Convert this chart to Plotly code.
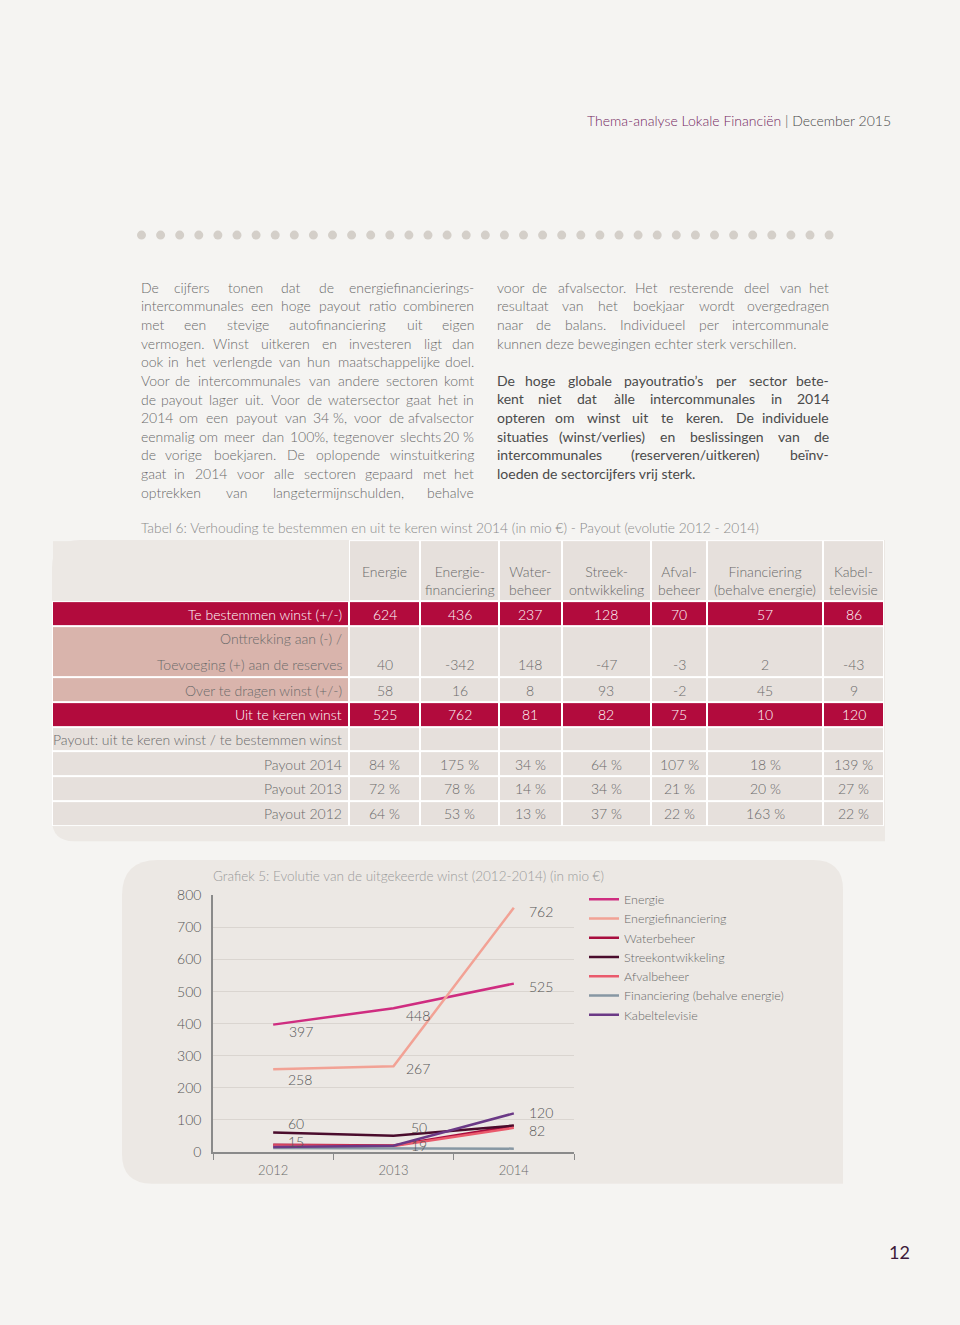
import plotly.graph_objects as go

W, H = 960, 1325
FONT = "Lato, 'Open Sans', sans-serif"

# ---------------- chart data (Grafiek 5) ----------------
years = ["2012", "2013", "2014"]
energie = [397, 448, 525]
energiefinanciering = [258, 267, 762]
waterbeheer = [22, 20, 81]
streekontwikkeling = [60, 50, 82]
afvalbeheer = [20, 18, 75]
financiering = [12, 12, 10]
kabeltelevisie = [15, 19, 120]
y_ticks = [0, 100, 200, 300, 400, 500, 600, 700, 800]

# ---------------- table data (Tabel 6) ----------------
table_headers = ["Energie", "Energie-<br>financiering", "Water-<br>beheer", "Streek-<br>ontwikkeling",
                 "Afval-<br>beheer", "Financiering<br>(behalve energie)", "Kabel-<br>televisie"]
te_bestemmen = [624, 436, 237, 128, 70, 57, 86]
reserves = [40, -342, 148, -47, -3, 2, -43]
over_te_dragen = [58, 16, 8, 93, -2, 45, 9]
uit_te_keren = [525, 762, 81, 82, 75, 10, 120]
payout_2014 = [84, 175, 34, 64, 107, 18, 139]
payout_2013 = [72, 78, 14, 34, 21, 20, 27]
payout_2012 = [64, 53, 13, 37, 22, 163, 22]

row_labels = [["Te bestemmen winst (+/-)"],
              ["Onttrekking aan (-) /", "Toevoeging (+) aan de reserves"],
              ["Over te dragen winst (+/-)"],
              ["Uit te keren winst"],
              ["Payout: uit te keren winst / te bestemmen winst"],
              ["Payout 2014"], ["Payout 2013"], ["Payout 2012"]]
row_values = [te_bestemmen, reserves, over_te_dragen, uit_te_keren, None,
              payout_2014, payout_2013, payout_2012]
row_suffix = ["", "", "", "", "", "\u00a0%", "\u00a0%", "\u00a0%"]
row_kind = ["red", "pink", "pink", "red", "plain", "plain", "plain", "plain"]

# ---------------- text ----------------
header_title = "Thema-analyse Lokale Financiën"
header_date = " | December 2015"
table_title = "Tabel 6: Verhouding te bestemmen en uit te keren winst 2014 (in mio €) - Payout (evolutie 2012 - 2014)"
chart_title = "Grafiek 5: Evolutie van de uitgekeerde winst (2012-2014) (in mio €)"
page_number = "12"
left_lines = [
    "De cijfers tonen dat de energiefinancierings-",
    "intercommunales een hoge payout ratio combineren",
    "met een stevige autofinanciering uit eigen",
    "vermogen. Winst uitkeren en investeren ligt dan",
    "ook in het verlengde van hun maatschappelijke doel.",
    "Voor de intercommunales van andere sectoren komt",
    "de payout lager uit. Voor de watersector gaat het in",
    "2014 om een payout van 34\u00a0%, voor de afvalsector",
    "eenmalig om meer dan 100%, tegenover slechts 20\u00a0%",
    "de vorige boekjaren. De oplopende winstuitkering",
    "gaat in 2014 voor alle sectoren gepaard met het",
    "optrekken van langetermijnschulden, behalve",
]
right_lines = [
    "voor de afvalsector. Het resterende deel van het",
    "resultaat van het boekjaar wordt overgedragen",
    "naar de balans. Individueel per intercommunale",
    "kunnen deze bewegingen echter sterk verschillen.",
]
right_bold_lines = [
    "De hoge globale payoutratio’s per sector bete-",
    "kent niet dat àlle intercommunales in 2014",
    "opteren om winst uit te keren. De individuele",
    "situaties (winst/verlies) en beslissingen van de",
    "intercommunales (reserveren/uitkeren) beïnv-",
    "loeden de sectorcijfers vrij sterk.",
]

# ---------------- styles ----------------
PAGE_BG = "#f5f4f2"
PANEL_BG = "#ece8e4"
CELL_BG = "#e6e0dc"
PINK = "#d9b4ac"
RED = "#b20b3d"
TEXT = "#6a6a6a"
DARK = "#555555"
series_style = [
    ("Energie", energie, "#cf2d80"),
    ("Energiefinanciering", energiefinanciering, "#f2a295"),
    ("Waterbeheer", waterbeheer, "#a80d3e"),
    ("Streekontwikkeling", streekontwikkeling, "#4a0c2c"),
    ("Afvalbeheer", afvalbeheer, "#ea5a6c"),
    ("Financiering (behalve energie)", financiering, "#8797a3"),
    ("Kabeltelevisie", kabeltelevisie, "#6b3986"),
]
label_offsets = {
    "Energie": [(14, -7), (10, -7), (13, -3)],
    "Energiefinanciering": [(13, -10), (10, -2), (13, -4)],
    "Streekontwikkeling": [(13, 9), (15, 8), (13, -5)],
    "Kabeltelevisie": [(13, 6), (15, 0), (13, 1)],
}
col_widths = [297, 71, 79, 62.5, 89.5, 56, 116, 61]
header_h = 62
row_heights = [25, 52, 25, 25, 25, 25, 25, 26]


def fx(x):
    return x / W


def fy(y):
    return 1 - y / H


def P(x, y):
    return f"{fx(x):.5f},{fy(y):.5f}"


def rounded(x0, y0, x1, y1, tl, tr, br, bl):
    return (f"M{P(x0 + tl, y0)} L{P(x1 - tr, y0)} Q{P(x1, y0)} {P(x1, y0 + tr)} "
            f"L{P(x1, y1 - br)} Q{P(x1, y1)} {P(x1 - br, y1)} L{P(x0 + bl, y1)} "
            f"Q{P(x0, y1)} {P(x0, y1 - bl)} L{P(x0, y0 + tl)} Q{P(x0, y0)} {P(x0 + tl, y0)} Z")


fig = go.Figure()
shapes = []
annotations = []

# panels
shapes.append(dict(type="path", xref="paper", yref="paper", layer="below",
                   path=rounded(52, 538, 885, 843, 28, 0, 0, 22), fillcolor=PANEL_BG, line=dict(width=0)))
shapes.append(dict(type="path", xref="paper", yref="paper", layer="below",
                   path=rounded(122, 862, 843, 1190, 36, 30, 0, 30), fillcolor=PANEL_BG, line=dict(width=0)))

# row of dots
for i in range(37):
    cx = 141.5 + i * 19.1
    shapes.append(dict(type="circle", xref="paper", yref="paper", layer="below",
                       x0=fx(cx - 4.5), x1=fx(cx + 4.5), y0=fy(229 + 4.5), y1=fy(229 - 4.5),
                       fillcolor="#d4cfc9", line=dict(width=0)))

# ---------------- table via heatmap ----------------
x_edges = [0]
for w in col_widths:
    x_edges.append(x_edges[-1] + w)
y_edges = [0, header_h]
for h in row_heights:
    y_edges.append(y_edges[-1] + h)
code = {"red": 3, "pink": 2, "plain": 1}
z_cells = [[0] + [1] * 7]
z_base = [[None] + [1] * 7]
for kind in row_kind:
    z_cells.append([code[kind]] + [3 if kind == "red" else 1] * 7)
    z_base.append([1] * 8)

fig.add_trace(go.Heatmap(x=x_edges, y=y_edges, z=z_base, xaxis="x2", yaxis="y2",
                         colorscale=[[0, "#ffffff"], [1, "#ffffff"]], showscale=False,
                         hoverinfo="skip"))
fig.add_trace(go.Heatmap(x=x_edges, y=y_edges, z=z_cells, xaxis="x2", yaxis="y2", zmin=0, zmax=3,
                         colorscale=[[0, PANEL_BG], [0.166, PANEL_BG], [0.167, CELL_BG], [0.5, CELL_BG],
                                     [0.5, PINK], [0.833, PINK], [0.834, RED], [1, RED]],
                         xgap=2, ygap=2, showscale=False, hoverinfo="skip"))

tfont = dict(family=FONT, size=14, color=TEXT, weight=300)
for j, hdr in enumerate(table_headers):
    cxm = (x_edges[j + 1] + x_edges[j + 2]) / 2
    annotations.append(dict(xref="x2", yref="y2", x=cxm, y=21, text=hdr, showarrow=False,
                            xanchor="center", yanchor="top", align="center", font=tfont))
for r, labels in enumerate(row_labels):
    top = y_edges[r + 1]
    col = "#ffffff" if row_kind[r] == "red" else TEXT
    f = dict(family=FONT, size=14, color=col, weight=300)
    for k, lab in enumerate(labels):
        annotations.append(dict(xref="x2", yref="y2", x=x_edges[1] - 5, y=top + 13 + k * 26,
                                text=lab, showarrow=False, xanchor="right", yanchor="middle", font=f))
    vals = row_values[r]
    if vals is not None:
        yv = top + 13 + (len(labels) - 1) * 26
        for j, v in enumerate(vals):
            cxm = (x_edges[j + 1] + x_edges[j + 2]) / 2
            annotations.append(dict(xref="x2", yref="y2", x=cxm, y=yv, text=f"{v}{row_suffix[r]}",
                                    showarrow=False, xanchor="center", yanchor="middle", font=f))

# ---------------- line chart ----------------
for name, vals, color in series_style:
    fig.add_trace(go.Scatter(x=years, y=vals, mode="lines", name=name, xaxis="x", yaxis="y",
                             line=dict(color=color, width=2.5), hoverinfo="skip"))
    if name in label_offsets:
        for i, v in enumerate(vals):
            dx, dy = label_offsets[name][i]
            annotations.append(dict(xref="x", yref="y", x=i, y=v, text=str(v), showarrow=False,
                                    xanchor="left", yanchor="middle", xshift=dx, yshift=dy,
                                    font=dict(family=FONT, size=14, color=DARK, weight=300)))

annotations.append(dict(xref="paper", yref="paper", x=fx(211), y=fy(878), text=chart_title,
                        showarrow=False, xanchor="left", yanchor="middle",
                        font=dict(family=FONT, size=13.5, color="#9a9a9a", weight=300)))

# ---------------- page text ----------------
annotations.append(dict(xref="paper", yref="paper", x=fx(893), y=fy(113),
                        text=f"<span style='color:#74285f'>{header_title}</span>{header_date}",
                        showarrow=False, xanchor="right", yanchor="middle",
                        font=dict(family=FONT, size=14, color="#4a4a4a", weight=300)))
annotations.append(dict(xref="paper", yref="paper", x=fx(139), y=fy(525), text=table_title,
                        showarrow=False, xanchor="left", yanchor="middle",
                        font=dict(family=FONT, size=13.8, color="#8a8a8a", weight=300)))
annotations.append(dict(xref="paper", yref="paper", x=fx(899), y=fy(1259), text=page_number,
                        showarrow=False, xanchor="center", yanchor="middle",
                        font=dict(family=FONT, size=18, color="#3d1a3a")))

CW = {' ': 0.193, 'a': 0.49, 'b': 0.55, 'c': 0.45, 'd': 0.55, 'e': 0.51, 'f': 0.31, 'g': 0.49,
      'h': 0.55, 'i': 0.23, 'j': 0.23, 'k': 0.49, 'l': 0.23, 'm': 0.83, 'n': 0.55, 'o': 0.54,
      'p': 0.55, 'q': 0.55, 'r': 0.35, 's': 0.41, 't': 0.34, 'u': 0.55, 'v': 0.49, 'w': 0.75,
      'x': 0.48, 'y': 0.49, 'z': 0.44, '.': 0.2, ',': 0.2, '-': 0.33, '%': 0.74, '(': 0.3,
      ')': 0.3, '/': 0.38, '’': 0.2, 'à': 0.49, 'ï': 0.23, 'ë': 0.51, 'I': 0.27, 'W': 0.94,
      'D': 0.69, 'V': 0.64, 'H': 0.71, 'K': 0.62, '\u00a0': 0.193}


def est(text, size):
    return sum(CW.get(ch, 0.58 if ch.isdigit() else 0.62) for ch in text) * size


def add_line(text, x0, x1, y, size, color, weight, justify):
    words = text.split(" ")
    f = dict(family=FONT, size=size, color=color, weight=weight)
    widths = [est(w, size) for w in words]
    if justify and len(words) > 1:
        gap = (x1 - x0 - sum(widths)) / (len(words) - 1)
    else:
        gap = 0
    if not justify or len(words) < 2 or gap < 0.193 * size * 1.5:
        annotations.append(dict(xref="paper", yref="paper", x=fx(x0), y=fy(y), text=text,
                                showarrow=False, xanchor="left", yanchor="middle", font=f))
        return
    cur = x0
    for i, (w, wd) in enumerate(zip(words, widths)):
        if i == 0:
            xa, xx = "left", x0
        elif i == len(words) - 1:
            xa, xx = "right", x1
        else:
            xa, xx = "center", cur + wd / 2
        annotations.append(dict(xref="paper", yref="paper", x=fx(xx), y=fy(y), text=w,
                                showarrow=False, xanchor=xa, yanchor="middle", font=f))
        cur += wd + gap


for i, line in enumerate(left_lines):
    add_line(line, 139, 476, 282 + i * 18.85, 14, TEXT, 300, True)
for i, line in enumerate(right_lines):
    add_line(line, 495, 831, 282 + i * 18.85, 14, TEXT, 300, i < len(right_lines) - 1)
for i, line in enumerate(right_bold_lines):
    add_line(line, 495, 831, 376 + i * 18.85, 14, "#4a4a4a", 400, i < len(right_bold_lines) - 1)

fig.update_layout(
    width=W, height=H, margin=dict(l=0, r=0, t=0, b=0),
    paper_bgcolor=PAGE_BG, plot_bgcolor="rgba(0,0,0,0)",
    font=dict(family=FONT, color=TEXT),
    showlegend=True,
    legend=dict(x=fx(584), y=fy(887), xanchor="left", yanchor="top", bgcolor="rgba(0,0,0,0)",
                font=dict(family=FONT, size=12.5, color=TEXT, weight=300), tracegroupgap=0),
    xaxis=dict(domain=[fx(213), fx(574)], type="category", range=[-0.5, 2.5], showline=True,
               linecolor="#8a8a8a", linewidth=1.5, ticks="outside", tickson="boundaries", ticklen=6,
               tickcolor="#8a8a8a", showgrid=False, zeroline=False, ticklabelstandoff=6,
               tickfont=dict(family=FONT, size=13, color=TEXT, weight=300), anchor="y"),
    yaxis=dict(domain=[fy(1157.7), fy(898)], range=[0, 800], tickvals=y_ticks, showline=True,
               linecolor="#8a8a8a", linewidth=1.5, showgrid=True, gridcolor="#dad5d0", gridwidth=1,
               zeroline=False, ticks="", ticklabelstandoff=7,
               tickfont=dict(family=FONT, size=14, color=DARK, weight=300), anchor="x"),
    xaxis2=dict(domain=[fx(52), fx(884)], range=[0, x_edges[-1]], visible=False, anchor="y2",
                fixedrange=True),
    yaxis2=dict(domain=[fy(538 + y_edges[-1]), fy(538)], range=[y_edges[-1], 0], visible=False,
                anchor="x2", fixedrange=True),
    shapes=shapes, annotations=annotations, hovermode=False,
)

fig.write_html("out.html", config={"displayModeBar": False},
               post_script="document.body.style.margin='0px';")
